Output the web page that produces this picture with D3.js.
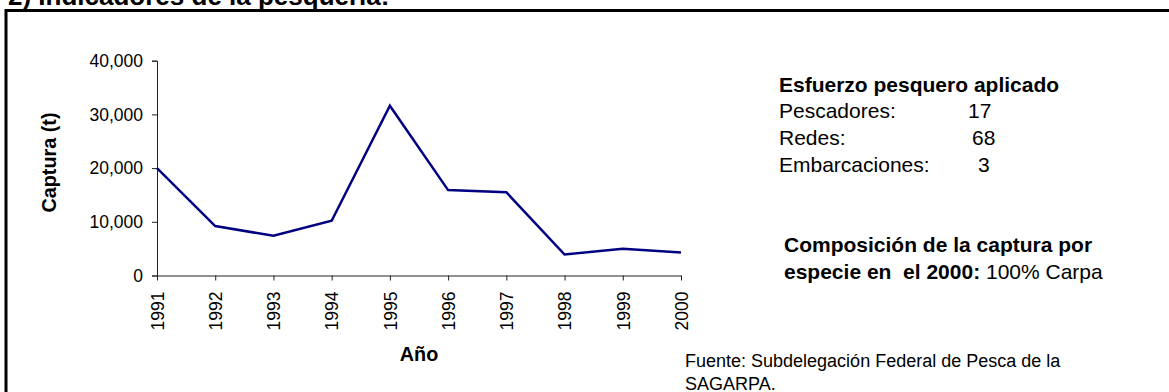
<!DOCTYPE html>
<html>
<head>
<meta charset="utf-8">
<script src="https://cdn.jsdelivr.net/npm/d3@7"></script>
<style>
  html, body { margin: 0; padding: 0; background: #fff; }
  svg { display: block; font-family: Arial, "Liberation Sans", sans-serif; }
  text { white-space: pre; }
</style>
</head>
<body>
<svg id="chart" width="1169" height="392"></svg>
<script>
// Annual catch (t), 1991–2000
const years = ["1991", "1992", "1993", "1994", "1995", "1996", "1997", "1998", "1999", "2000"];
const captura = [20000, 9200, 7400, 10200, 31600, 15900, 15500, 3900, 5000, 4300];
const yTicks = [0, 10000, 20000, 30000, 40000];

// Fishing effort panel
const esfuerzoTitulo = "Esfuerzo pesquero aplicado";
const esfuerzoEtiquetas = ["Pescadores:", "Redes:", "Embarcaciones:"];
const esfuerzoValores = [17, 68, 3];

const svg = d3.select("#chart");

// Section heading (partly above the frame) and the frame itself
svg.append("text")
  .attr("x", 8).attr("y", 5)
  .style("font-size", "26px").style("font-weight", "bold")
  .text("2) Indicadores de la pesquería:");

svg.append("rect")
  .attr("x", 6).attr("y", 10.5)
  .attr("width", 1300).attr("height", 500)
  .attr("fill", "none").attr("stroke", "#000").attr("stroke-width", 3);

// Scales
const x = d3.scalePoint().domain(years).range([157, 681]);
const y = d3.scaleLinear().domain([0, 40000]).range([275.5, 60.7]);

// Y axis
const gy = svg.append("g")
  .attr("transform", "translate(157,0)")
  .call(d3.axisLeft(y).tickValues(yTicks).tickSize(5).tickPadding(9).tickFormat(d3.format(",")));
gy.selectAll("text").style("font-size", "17.5px").attr("fill", "#000").style("font-family", "Arial, 'Liberation Sans', sans-serif");
gy.selectAll("line, path").attr("stroke", "#222");

// X axis with vertical year labels
const gx = svg.append("g")
  .attr("transform", "translate(0,275.5)")
  .call(d3.axisBottom(x).tickSize(5).tickSizeOuter(0));
gx.selectAll("line, path").attr("stroke", "#222");
gx.selectAll("text")
  .style("font-size", "17.5px").attr("fill", "#000")
  .style("font-family", "Arial, 'Liberation Sans', sans-serif")
  .style("text-anchor", "end")
  .attr("transform", "rotate(-90)")
  .attr("x", -16).attr("y", 0).attr("dy", "0.36em");

// Catch line
const line = d3.line()
  .x((d, i) => x(years[i]))
  .y(d => y(d));
svg.append("path")
  .datum(captura)
  .attr("d", line)
  .attr("fill", "none")
  .attr("stroke", "#000080")
  .attr("stroke-width", 2.5)
  .attr("stroke-linejoin", "miter");

// Axis titles
svg.append("text")
  .attr("transform", "translate(56,162.5) rotate(-90)")
  .style("text-anchor", "middle")
  .style("font-size", "19.8px").style("font-weight", "bold")
  .text("Captura (t)");

svg.append("text")
  .attr("x", 419).attr("y", 361)
  .style("text-anchor", "middle")
  .style("font-size", "19.8px").style("font-weight", "bold")
  .text("Año");

// Effort panel
svg.append("text")
  .attr("x", 779).attr("y", 91.5)
  .style("font-size", "21px").style("font-weight", "bold")
  .text(esfuerzoTitulo);

const rowY = [118, 145, 171.5];
const valueX = [968, 972, 978];
esfuerzoEtiquetas.forEach((lab, i) => {
  svg.append("text").attr("x", 779).attr("y", rowY[i])
    .style("font-size", "21px").text(lab);
  svg.append("text").attr("x", valueX[i]).attr("y", rowY[i])
    .style("font-size", "21px").text(esfuerzoValores[i]);
});

// Species composition note
svg.append("text")
  .attr("x", 784).attr("y", 252)
  .style("font-size", "21px").style("font-weight", "bold")
  .text("Composición de la captura por");
const comp2 = svg.append("text")
  .attr("x", 784).attr("y", 278.5)
  .style("font-size", "21px");
comp2.append("tspan").style("font-weight", "bold").text("especie en  el 2000:");
comp2.append("tspan").text(" 100% Carpa");

// Source
svg.append("text")
  .attr("x", 685).attr("y", 366.5)
  .style("font-size", "18px")
  .text("Fuente: Subdelegación Federal de Pesca de la");
svg.append("text")
  .attr("x", 685).attr("y", 389.5)
  .style("font-size", "18px")
  .text("SAGARPA.");
</script>
</body>
</html>
